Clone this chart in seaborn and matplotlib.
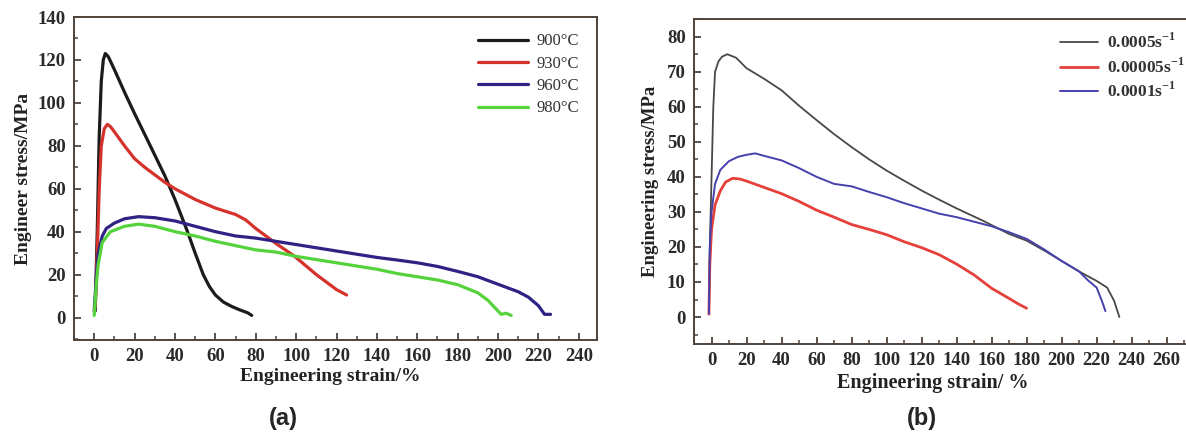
import matplotlib
matplotlib.use("Agg")
import matplotlib.pyplot as plt
import seaborn as sns
from matplotlib.ticker import MultipleLocator

sns.set_style("ticks")
plt.rcParams['font.family'] = ['Liberation Serif', 'DejaVu Serif']
plt.rcParams['mathtext.fontset'] = 'custom'
plt.rcParams['mathtext.rm'] = 'Liberation Serif:bold'
plt.rcParams['mathtext.bf'] = 'Liberation Serif:bold'

# ---- panel (a): temperature series ----
temps = ["900°C", "930°C", "960°C", "980°C"]
colors_a = ["#1c1a1a", "#d5322c", "#2e2384", "#55d33c"]

x900 = [0.5, 1.5, 2.5, 3.5, 4.5, 5.5, 7, 10, 15, 20, 27, 35, 40, 46, 50, 54, 57, 60, 64, 68, 72, 76, 78]
y900 = [3, 40, 85, 110, 120, 123, 121.5, 115.5, 105, 95, 81.5, 66, 55, 40.5, 30, 20, 14.5, 10.5, 7.2, 5.2, 3.6, 2.2, 1]

x930 = [0.5, 1.5, 2.5, 3.5, 5, 6.5, 8, 10, 15, 20, 25, 30, 35, 40, 50, 60, 70, 75, 80, 90, 99, 110, 120, 125]
y930 = [5, 30, 60, 80, 88, 90, 89, 86.5, 80, 74, 70, 66.5, 63, 60, 55, 51, 48, 45.5, 41.5, 34.5, 28.7, 20, 13, 10.5]

x960 = [0, 1, 2, 4, 6, 10, 15, 22, 30, 40, 50, 60, 70, 80, 90, 100, 110, 120, 130, 140, 150, 160,
        170, 180, 190, 200, 210, 215, 220, 223, 226]
y960 = [3, 18, 30, 38, 41.5, 44, 46, 47, 46.5, 45, 42.5, 40, 38, 37, 35.5, 34, 32.5, 31, 29.5, 28, 26.8, 25.5,
        23.8, 21.5, 19, 15.5, 12, 9.5, 5.5, 1.5, 1.5]

x980 = [0, 1, 2, 4, 8, 15, 22, 30, 40, 50, 60, 70, 80, 90, 100, 110, 120, 130, 140, 150, 160, 170,
        180, 190, 195, 199, 201.5, 204, 206.5]
y980 = [1, 15, 25, 35, 40, 42.5, 43.5, 42.5, 40, 38, 35.5, 33.5, 31.5, 30.5, 28.5, 27, 25.5, 24, 22.5, 20.5, 19, 17.5,
        15.3, 11.5, 8, 4, 1.5, 2, 1]

# ---- panel (b): strain rate series ----
rates = [r"0.0005s$^{-1}$", r"0.00005s$^{-1}$", r"0.0001s$^{-1}$"]
colors_b = ["#4a4845", "#e5403a", "#4640ad"]

xr1 = [-1.5, -1, 0, 1, 2, 4, 6, 9, 14, 20, 30, 40, 50, 60, 70, 80, 90, 100, 110, 120, 130, 140, 155,
       170, 180, 190, 200, 210, 220, 226, 230, 233]
yr1 = [1, 20, 40, 60, 70, 73, 74.3, 75, 74, 71, 68, 64.7, 60.3, 56.2, 52.2, 48.5, 45, 41.8, 38.9, 36.1, 33.5, 31,
       27.5, 23.7, 21.8, 19, 16, 13, 10.3, 8.4, 4.6, 0]

xr2 = [-1.5, -1, 0, 2, 5, 8, 12, 16, 20, 30, 40, 50, 60, 70, 80, 90, 100, 110, 120, 130, 140, 150,
       160, 170, 175, 180]
yr2 = [0.8, 15, 25, 32, 36, 38.5, 39.6, 39.4, 38.8, 37, 35.2, 33, 30.5, 28.5, 26.4, 25, 23.5, 21.5, 19.8, 17.8, 15.1, 12,
       8.2, 5.3, 3.8, 2.5]

xr3 = [-1.5, -1, 0, 2, 5, 10, 15, 20, 25, 30, 40, 50, 60, 70, 80, 90, 100, 110, 120, 130, 140, 150,
       160, 170, 180, 190, 200, 210, 215, 220, 223, 225]
yr3 = [1, 20, 30, 38, 42, 44.5, 45.7, 46.3, 46.7, 46, 44.7, 42.5, 40, 38, 37.3, 35.7, 34.2, 32.5, 31, 29.5, 28.5, 27.2,
       25.9, 24.2, 22.3, 19.3, 16, 13, 10.5, 8.4, 4.6, 1.7]

fig = plt.figure(figsize=(11.86, 4.36), dpi=100)
ax1 = fig.add_axes([0.0624, 0.220, 0.4410, 0.741])
ax2 = fig.add_axes([0.5852, 0.211, 0.4280, 0.745])

spine_col = "#4f433b"

series_a = [(x900, y900), (x930, y930), (x960, y960), (x980, y980)]
for (xs, ys), lab, c in zip(series_a, temps, colors_a):
    sns.lineplot(x=xs, y=ys, ax=ax1, color=c, lw=2.3, label=lab, sort=False, estimator=None)

series_b = [(xr1, yr1), (xr2, yr2), (xr3, yr3)]
widths_b = [1.3, 2.0, 1.4]
for (xs, ys), lab, c, w in zip(series_b, rates, colors_b, widths_b):
    sns.lineplot(x=xs, y=ys, ax=ax2, color=c, lw=w, label=lab, sort=False, estimator=None)

ax1.set_xlim(-10, 249)
ax1.set_ylim(-10.5, 140)
ax1.xaxis.set_major_locator(MultipleLocator(20))
ax1.xaxis.set_minor_locator(MultipleLocator(10))
ax1.yaxis.set_major_locator(MultipleLocator(20))
ax1.yaxis.set_minor_locator(MultipleLocator(10))
ax1.set_xlabel("Engineering strain/%", fontsize=14, fontweight='bold', color="#222222")
ax1.set_ylabel("Engineer stress/MPa", fontsize=14, fontweight='bold', labelpad=4, color="#222222")
ax1.xaxis.set_label_coords(0.49, -0.085)

ax2.set_xlim(-10, 280)
ax2.set_ylim(-7.7, 85)
ax2.set_xticks(list(range(0, 261, 20)))
ax2.xaxis.set_minor_locator(MultipleLocator(10))
ax2.yaxis.set_major_locator(MultipleLocator(10))
ax2.yaxis.set_minor_locator(MultipleLocator(5))
ax2.set_xlim(-10, 280)
ax2.set_xlabel("Engineering strain/ %", fontsize=14.5, fontweight='bold', color="#222222")
ax2.set_ylabel("Engineering stress/MPa", fontsize=13.5, fontweight='bold', labelpad=6, color="#222222")
ax2.xaxis.set_label_coords(0.471, -0.088)

for ax in (ax1, ax2):
    for s in ax.spines.values():
        s.set_color(spine_col)
        s.set_linewidth(1.4)
    ax.tick_params(which='major', direction='in', length=5, width=1.3, color=spine_col,
                   labelsize=13.5, labelcolor="#2a2a2a", pad=6)
    ax.tick_params(which='minor', direction='in', length=3, width=1.1, color=spine_col)
    for t in ax.get_xticklabels() + ax.get_yticklabels():
        t.set_fontweight('bold')

leg1 = ax1.legend(loc='upper right', bbox_to_anchor=(0.985, 0.98), frameon=False, fontsize=12,
                  handlelength=3.0, handletextpad=0.5, labelspacing=0.38, borderaxespad=0.2)
for t in leg1.get_texts():
    t.set_color("#333333")

leg2 = ax2.legend(loc='upper left', bbox_to_anchor=(0.70, 0.99), frameon=False,
                  prop=dict(family='Liberation Serif', weight='bold', size=12.5),
                  handlelength=2.2, handletextpad=0.5, labelspacing=0.3, borderaxespad=0.2)
for t in leg2.get_texts():
    t.set_color("#333333")

fig.text(0.239, 0.04, "(a)", fontsize=17, fontweight='bold', family='Liberation Sans', ha='center', va='center')
fig.text(0.777, 0.04, "(b)", fontsize=17, fontweight='bold', family='Liberation Sans', ha='center', va='center')

fig.savefig("out.png", dpi=100)
